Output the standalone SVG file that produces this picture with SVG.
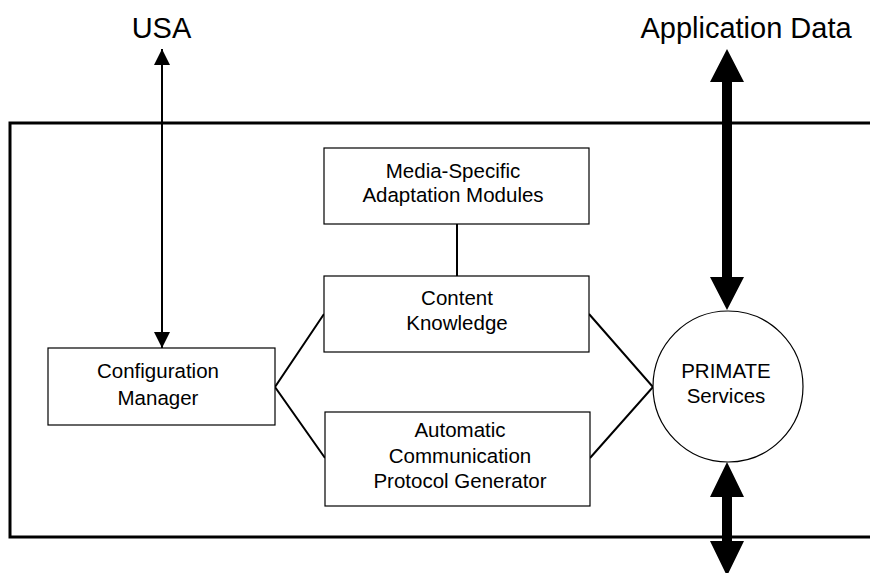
<svg xmlns="http://www.w3.org/2000/svg" width="870" height="573" viewBox="0 0 870 573">
<style>
text{font-family:"Liberation Sans",Arial,sans-serif;fill:#000;text-anchor:middle}
.lbl{font-size:20.5px}
.big{font-size:29px}
.box{fill:#fff;stroke:#000;stroke-width:1.2}
.ln{stroke:#000;stroke-width:2;fill:none}
</style>
<defs>
<marker id="ah" viewBox="0 0 16 16" refX="16" refY="8" markerWidth="16" markerHeight="16" markerUnits="userSpaceOnUse" orient="auto-start-reverse">
<path d="M0,0 L16,8 L0,16 Z" fill="#000"/>
</marker>
</defs>
<rect id="frame" x="10" y="123" width="880" height="414" fill="none" stroke="#000" stroke-width="3"/>
<text class="big" x="161.5" y="38">USA</text>
<text class="big" x="746" y="38">Application Data</text>
<g id="connectors">
<line class="ln" x1="162" y1="49" x2="162" y2="348" marker-start="url(#ah)" marker-end="url(#ah)"/>
<line class="ln" x1="457" y1="224" x2="457" y2="276"/>
<polyline class="ln" points="324,314 275,387 325,458"/>
<polyline class="ln" points="589,314 653,387 590,458"/>
<path d="M727,49 L744,82 L732,82 L732,277 L744,277 L727,310 L710,277 L722,277 L722,82 L710,82 Z" fill="#000"/>
<path d="M727,462 L744,497 L732,497 L732,541 L744,541 L727,576 L710,541 L722,541 L722,497 L710,497 Z" fill="#000"/>
</g>
<g id="config">
<rect class="box" x="48" y="348" width="227" height="77"/>
<text class="lbl" x="158" y="378">Configuration</text>
<text class="lbl" x="158" y="405">Manager</text>
</g>
<g id="media">
<rect class="box" x="324" y="148" width="265" height="76"/>
<text class="lbl" x="453" y="178">Media-Specific</text>
<text class="lbl" x="453" y="202">Adaptation Modules</text>
</g>
<g id="content">
<rect class="box" x="324" y="276" width="265" height="76"/>
<text class="lbl" x="457" y="305">Content</text>
<text class="lbl" x="457" y="330">Knowledge</text>
</g>
<g id="acpg">
<rect class="box" x="325" y="412" width="265" height="94"/>
<text class="lbl" x="460" y="437">Automatic</text>
<text class="lbl" x="460" y="463">Communication</text>
<text class="lbl" x="460" y="488">Protocol Generator</text>
</g>
<g id="primate">
<ellipse class="box" cx="728" cy="386.5" rx="75" ry="75.5"/>
<text class="lbl" x="726" y="378">PRIMATE</text>
<text class="lbl" x="726" y="403">Services</text>
</g>
</svg>
